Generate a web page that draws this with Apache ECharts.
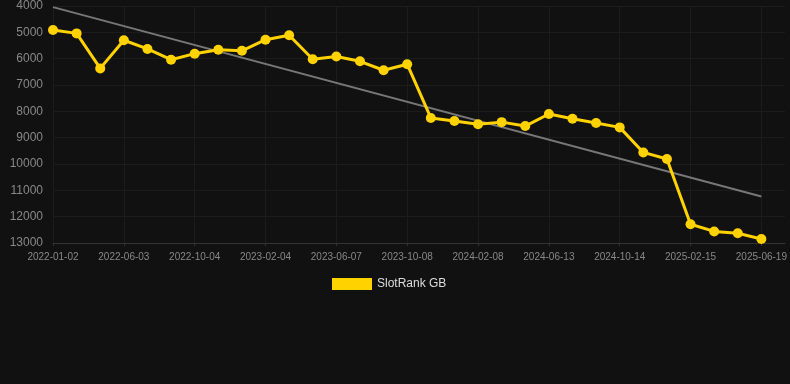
<!DOCTYPE html>
<html>
<head>
<meta charset="utf-8">
<script src="https://cdn.jsdelivr.net/npm/echarts@6/dist/echarts.min.js"></script>
<style>
html,body{margin:0;padding:0;background:#111111;}
#chart{width:790px;height:384px;}
</style>
</head>
<body>
<div id="chart"></div>
<script>
const categories = [
  '2022-01-02','2022-02-22','2022-04-13','2022-06-03','2022-07-14','2022-08-24',
  '2022-10-04','2022-11-14','2022-12-25','2023-02-04','2023-03-17','2023-04-27',
  '2023-06-07','2023-07-18','2023-08-28','2023-10-08','2023-11-18','2023-12-29',
  '2024-02-08','2024-03-20','2024-05-02','2024-06-13','2024-07-24','2024-09-03',
  '2024-10-14','2024-11-24','2025-01-04','2025-02-15','2025-03-28','2025-05-09',
  '2025-06-19','2025-07-30'
];
const rankValues = [
  4910, 5040, 6370, 5300, 5630, 6040, 5810, 5660, 5700, 5280, 5110,
  6020, 5920, 6100, 6440, 6210, 8250, 8370, 8490, 8410, 8560, 8100,
  8280, 8440, 8610, 9560, 9810, 12290, 12560, 12630, 12850
];
const yTicks = { min: 4000, max: 13000, interval: 1000 };
const seriesName = 'SlotRank GB';

// linear regression trend over the data
const n = rankValues.length;
let sx = 0, sy = 0, sxy = 0, sxx = 0;
rankValues.forEach((v, i) => { sx += i; sy += v; sxy += i * v; sxx += i * i; });
const slope = (n * sxy - sx * sy) / (n * sxx - sx * sx);
const intercept = (sy - slope * sx) / n;
const trend = categories.map((c, i) => (i === 0 || i === n - 1) ? Math.round(intercept + slope * i) : null);

const chart = echarts.init(document.getElementById('chart'));
chart.setOption({
  backgroundColor: '#111111',
  animation: false,
  grid: { left: 53, right: 5, top: 6, bottom: 141 },
  legend: {
    data: [{ name: seriesName, icon: 'rect' }],
    top: 273,
    left: 327,
    itemWidth: 40,
    itemHeight: 12,
    itemGap: 10,
    textStyle: { color: '#dddddd', fontSize: 12, fontFamily: 'Arial, Liberation Sans, sans-serif' }
  },
  xAxis: {
    type: 'category',
    data: categories,
    boundaryGap: false,
    axisLine: { lineStyle: { color: '#333333' } },
    axisTick: { show: true, alignWithLabel: true, interval: 2, length: 3, lineStyle: { color: '#333333' } },
    axisLabel: { interval: 2, color: '#888888', fontSize: 10, margin: 9, fontFamily: 'Arial, Liberation Sans, sans-serif' },
    splitLine: { show: true, interval: 2, lineStyle: { color: '#1c1c1c' } }
  },
  yAxis: {
    type: 'value',
    inverse: true,
    min: yTicks.min,
    max: yTicks.max,
    interval: yTicks.interval,
    axisLine: { show: false },
    axisTick: { show: false },
    axisLabel: { color: '#888888', fontSize: 12, margin: 10, formatter: v => String(v), fontFamily: 'Arial, Liberation Sans, sans-serif' },
    splitLine: { lineStyle: { color: '#1c1c1c' } }
  },
  series: [
    {
      name: 'trend',
      type: 'line',
      data: trend,
      connectNulls: true,
      symbol: 'none',
      lineStyle: { color: '#777777', width: 2 },
      z: 1,
      silent: true
    },
    {
      name: seriesName,
      type: 'line',
      data: rankValues,
      symbol: 'circle',
      symbolSize: 10,
      itemStyle: { color: '#ffd200' },
      lineStyle: { color: '#ffd200', width: 3 },
      z: 2
    }
  ]
});
</script>
</body>
</html>
